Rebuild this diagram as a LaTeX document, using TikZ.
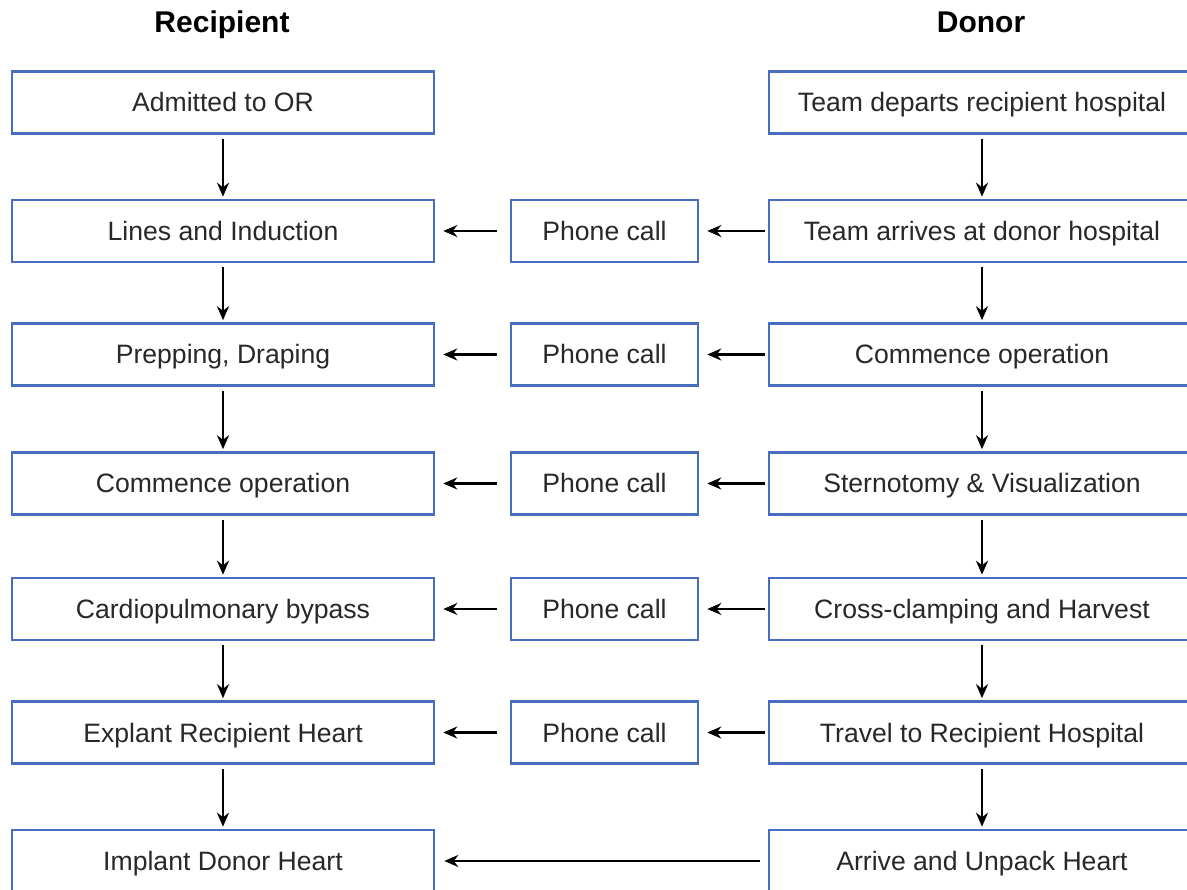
\documentclass[tikz,border=0pt]{standalone}
\usepackage{fontspec}
\setmainfont{Liberation Sans}
\usetikzlibrary{arrows.meta}
\definecolor{boxblue}{RGB}{72,108,190}
\definecolor{txt}{RGB}{40,40,40}
\begin{document}
\begin{tikzpicture}[x=1pt,y=-1pt,
  stepbox/.style={draw=boxblue,line width=2.6pt,fill=white,inner sep=0pt,minimum height=62pt,text height=19pt,text depth=0pt,text=txt,font=\fontsize{26.6}{30}\selectfont},
  leftbox/.style={stepbox,minimum width=422pt},
  rightbox/.style={stepbox,minimum width=426pt},
  midbox/.style={stepbox,minimum width=187pt},
  head/.style={font=\fontsize{30}{34}\selectfont\bfseries,text=black,anchor=base},
  arr/.style={-{Stealth[length=14pt,width=12pt]},line width=2.8pt,black}]
\useasboundingbox (0,0) rectangle (1187,890);
\begin{scope}
\clip (0,0) rectangle (1187,890);
\node[head] (hr) at (222,33) {Recipient};
\node[head] (hd) at (981,33) {Donor};

\node[leftbox] (l1) at (223,102.5) {Admitted to OR};
\node[leftbox] (l2) at (223,231) {Lines and Induction};
\node[leftbox] (l3) at (223,354.5) {Prepping, Draping};
\node[leftbox] (l4) at (223,483.5) {Commence operation};
\node[leftbox] (l5) at (223,609) {Cardiopulmonary bypass};
\node[leftbox] (l6) at (223,732.5) {Explant Recipient Heart};
\node[leftbox] (l7) at (223,861) {Implant Donor Heart};

\node[rightbox] (r1) at (982,102.5) {Team departs recipient hospital};
\node[rightbox] (r2) at (982,231) {Team arrives at donor hospital};
\node[rightbox] (r3) at (982,354.5) {Commence operation};
\node[rightbox] (r4) at (982,483.5) {Sternotomy \& Visualization};
\node[rightbox] (r5) at (982,609) {Cross-clamping and Harvest};
\node[rightbox] (r6) at (982,732.5) {Travel to Recipient Hospital};
\node[rightbox] (r7) at (982,861) {Arrive and Unpack Heart};

\node[midbox] (m2) at (604.5,231) {Phone call};
\node[midbox] (m3) at (604.5,354.5) {Phone call};
\node[midbox] (m4) at (604.5,483.5) {Phone call};
\node[midbox] (m5) at (604.5,609) {Phone call};
\node[midbox] (m6) at (604.5,732.5) {Phone call};

\foreach \a/\b in {1/2,2/3,3/4,4/5,5/6,6/7}{
  \draw[arr,shorten <=4pt,shorten >=2pt] (l\a) -- (l\b);
  \draw[arr,shorten <=4pt,shorten >=2pt] (r\a) -- (r\b);
}
\foreach \i in {2,3,4,5,6}{
  \draw[arr,shorten <=3pt,shorten >=8pt] (r\i) -- (m\i);
  \draw[arr,shorten <=13pt,shorten >=8pt] (m\i) -- (l\i);
}
\draw[arr,shorten <=8pt,shorten >=9pt] (r7) -- (l7);
\end{scope}
\end{tikzpicture}
\end{document}
